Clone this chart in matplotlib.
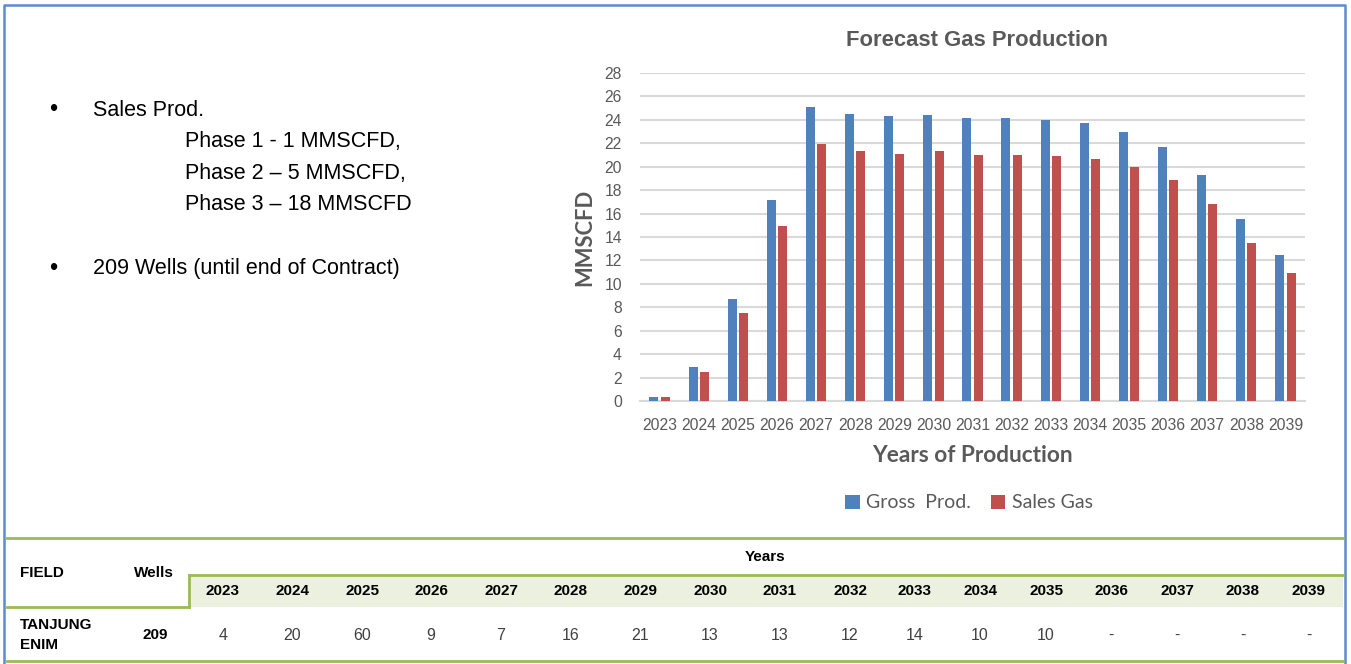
import matplotlib
matplotlib.use("Agg")
import matplotlib.pyplot as plt
import numpy as np
from matplotlib.patches import Rectangle
from matplotlib.lines import Line2D

# data
years = ['2023', '2024', '2025', '2026', '2027', '2028', '2029', '2030', '2031',
         '2032', '2033', '2034', '2035', '2036', '2037', '2038', '2039']
gross_prod = [0.3, 2.9, 8.7, 17.2, 25.1, 24.5, 24.3, 24.4, 24.2,
              24.2, 24.0, 23.7, 23.0, 21.7, 19.3, 15.5, 12.5]
sales_gas = [0.3, 2.5, 7.5, 14.9, 21.9, 21.3, 21.1, 21.3, 21.0,
             21.0, 20.9, 20.7, 20.0, 18.9, 16.8, 13.5, 10.9]
wells_per_year = ['4', '20', '60', '9', '7', '16', '21', '13', '13',
                  '12', '14', '10', '10', '-', '-', '-', '-']
field_name = 'TANJUNG\nENIM'
total_wells = '209'
bullets = ['Sales Prod.', '209 Wells (until end of Contract)']
phases = ['Phase 1 - 1 MMSCFD,', 'Phase 2 \u2013 5 MMSCFD,', 'Phase 3 \u2013 18 MMSCFD']

W, H = 1351, 664
NARROW = ['Liberation Sans', 'DejaVu Sans']
CAL = ['Lato', 'DejaVu Sans']
GRAY = '#595959'
GREEN = '#9bbb59'


def px(x, y):
    return x / W, 1 - y / H


fig = plt.figure(figsize=(W / 100, H / 100), dpi=100)

# slide frame
fig.add_artist(Line2D([4 / W, 4 / W, 1345 / W, 1345 / W], [0, 1 - 5 / H, 1 - 5 / H, 0],
                      transform=fig.transFigure, color='#5b8bd0', lw=1.8))

# bullet text
for txt, yy in zip(bullets, [110, 269]):
    fig.text(*px(53, yy), '\u2022', family=NARROW, fontsize=17, ha='center', va='center')
    fig.text(*px(93, yy), txt, family=NARROW, fontsize=15.5, ha='left', va='center')
for txt, yy in zip(phases, [141, 173, 204]):
    fig.text(*px(185, yy), txt, family=NARROW, fontsize=15.5, ha='left', va='center')

# chart
ax = fig.add_axes([640 / W, 1 - 401 / H, (1305 - 640) / W, (401 - 73) / H])
x = np.arange(len(years))
ax.bar(x - 0.145, gross_prod, 0.23, color='#4f81bd', label='Gross  Prod.', zorder=3)
ax.bar(x + 0.145, sales_gas, 0.23, color='#c0504d', label='Sales Gas', zorder=3)
ax.set_xlim(-0.5, len(years) - 0.5)
ax.set_ylim(0, 28)
ax.set_yticks(np.arange(0, 29, 2))
ax.set_xticks(x)
ax.set_xticklabels(years)
ax.grid(axis='y', color='#d9d9d9', lw=1.5, zorder=0)
for s in ['top', 'right', 'left']:
    ax.spines[s].set_visible(False)
ax.spines['bottom'].set_color('#d9d9d9')
ax.spines['bottom'].set_linewidth(1.5)
ax.tick_params(length=0, colors=GRAY, labelsize=11.3)
ax.tick_params(axis='y', pad=13)
ax.tick_params(axis='x', pad=12)
for lab in ax.get_xticklabels() + ax.get_yticklabels():
    lab.set_family(NARROW)

fig.text(*px(977, 40), 'Forecast Gas Production', family=NARROW, fontsize=15.8,
         weight='bold', color=GRAY, ha='center', va='center')
fig.text(*px(972, 456), 'Years of Production', family=CAL, fontsize=16.3,
         weight='bold', color=GRAY, ha='center', va='center')
fig.text(*px(585, 237), 'MMSCFD', family=CAL, fontsize=15.8, weight='bold',
         color=GRAY, ha='center', va='center', rotation=90)
fig.legend(loc='center', bbox_to_anchor=px(969, 503), ncol=2, frameon=False,
           prop={'family': CAL, 'size': 14}, labelcolor=GRAY,
           handlelength=0.75, handleheight=0.75, handletextpad=0.35, columnspacing=1.0)

# table
def hline(x0, x1, y, **kw):
    fig.add_artist(Line2D([x0 / W, x1 / W], [1 - y / H, 1 - y / H],
                          transform=fig.transFigure, **kw))

fig.add_artist(Rectangle(px(189, 607), (1343 - 189) / W, (607 - 575) / H,
                         transform=fig.transFigure, color='#ebf1de', lw=0))
hline(7, 1343, 538, color=GREEN, lw=2)
hline(189, 1343, 575, color=GREEN, lw=2)
hline(7, 189, 607, color=GREEN, lw=2)
fig.add_artist(Line2D([189 / W, 189 / W], [1 - 575 / H, 1 - 607 / H],
                      transform=fig.transFigure, color=GREEN, lw=2))
hline(7, 1343, 661, color=GREEN, lw=2)

col_x = [223, 292, 362, 431, 501, 571, 640, 710, 780, 850, 915, 980, 1046, 1111, 1177, 1243, 1309]
fig.text(*px(765, 557), 'Years', family=NARROW, fontsize=11, weight='bold', ha='center', va='center')
fig.text(*px(20, 573), 'FIELD', family=NARROW, fontsize=11, weight='bold', ha='left', va='center')
fig.text(*px(154, 573), 'Wells', family=NARROW, fontsize=11, weight='bold', ha='center', va='center')
fig.text(*px(20, 635), field_name, family=NARROW, fontsize=11, weight='bold', ha='left',
         va='center', linespacing=1.5)
fig.text(*px(155, 635), total_wells, family=NARROW, fontsize=11, weight='bold', ha='center', va='center')
for cx, yr, n in zip(col_x, years, wells_per_year):
    fig.text(*px(cx, 591), yr, family=NARROW, fontsize=11, weight='bold', ha='center', va='center')
    fig.text(*px(cx, 635), n, family=NARROW, fontsize=11.5, color='#404040', ha='center', va='center')

fig.savefig('out.png', dpi=100)
